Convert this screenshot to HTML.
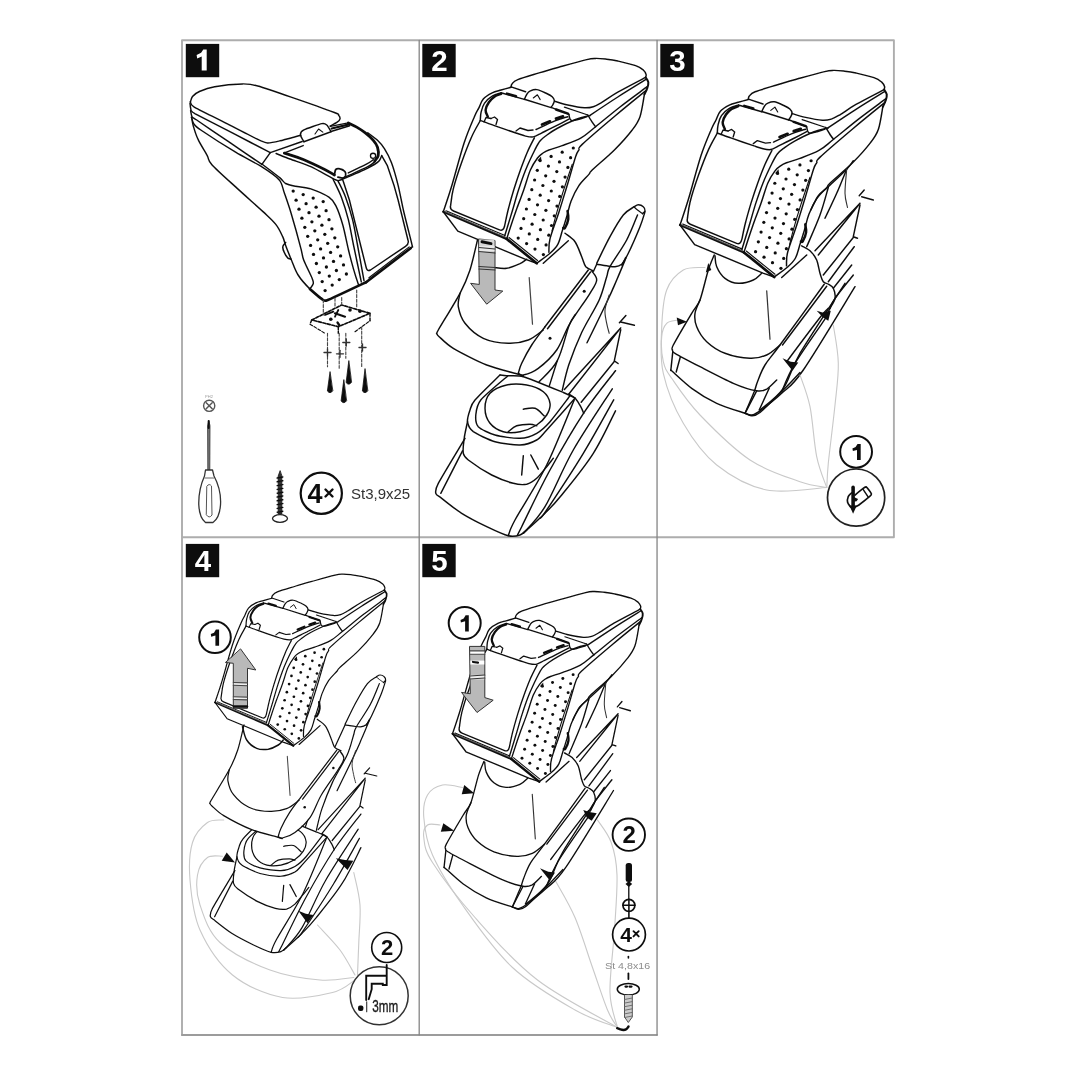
<!DOCTYPE html>
<html><head><meta charset="utf-8"><title>Armrest installation</title>
<style>html,body{margin:0;padding:0;background:#fff}svg{display:block}text{font-family:"Liberation Sans",sans-serif}</style>
</head><body>
<svg width="1080" height="1080" viewBox="0 0 1080 1080">
<rect width="1080" height="1080" fill="#fff"/>
<defs><filter id="soft" x="0" y="0" width="1080" height="1080" filterUnits="userSpaceOnUse"><feGaussianBlur stdDeviation="0.38"/></filter><g id="arm"><path d="M511.1 86.9 C511.2 86.4 510.9 85.1 512 83.9 C513.1 82.7 513.1 81.5 517.8 79.6 C522.5 77.7 532.5 74.9 540 72.6 C547.5 70.3 555.2 68.2 563 66 C570.8 63.8 581.3 60.9 586.7 59.6 C592.1 58.3 592.3 58.5 595.6 58.4 C598.9 58.3 603 58.8 606.7 59.2 C610.4 59.6 613 59.9 617.8 61 C622.6 62.1 631.4 64.1 635.6 65.6 C639.9 67.1 641.5 68.5 643.3 70 C645 71.5 645.7 73.2 646.1 74.4 C646.5 75.6 645.7 76.9 645.6 77.4" fill="none" stroke="#111" stroke-width="1.46" />
<path d="M645.6 77.4 C641 79.9 625 88.1 617.8 92.2 C610.6 96.3 606.3 99.8 602.2 102.2 C598.1 104.6 596.3 105.8 593.3 106.7 C590.3 107.6 588.6 108.1 584.4 107.8 C580.1 107.5 572.8 106.1 567.8 105 C562.8 103.9 556.6 101.8 554.4 101.1" fill="none" stroke="#111" stroke-width="1.46" />
<path d="M511.1 86.9 L525.6 91.7" fill="none" stroke="#111" stroke-width="1.46" />
<path d="M524.4 99.2 C524.8 98.3 526.1 95.3 527 94 C527.9 92.7 528.4 91.8 530 91.1 C531.6 90.4 533.9 89.2 536.7 89.6 C539.5 90 544.1 92.3 546.7 93.5 C549.3 94.7 550.9 95.5 552.2 96.7 C553.5 97.9 554.3 99.3 554.4 100.6 C554.5 101.9 553.5 103.4 553 104.5 C552.5 105.6 551.4 106.8 551.1 107.2" fill="none" stroke="#111" stroke-width="1.46" />
<path d="M524.4 99.2 L551.1 107.6" fill="none" stroke="#111" stroke-width="1.46" />
<path d="M533.3 98 L537.4 94.8 L540.2 99.6" fill="none" stroke="#111" stroke-width="1.12" />
<path d="M511.1 87.2 C509.4 87.7 504.2 89.1 501.1 90 C498 90.9 495.2 91.3 492.2 92.8 C489.2 94.3 485.5 96.4 483.3 98.9 C481.1 101.4 480.4 104.8 478.9 107.8 C477.4 110.8 476.9 110.8 474.4 116.7 C471.9 122.6 467.7 131.9 464 143.3 C460.3 154.7 455.4 173.6 452 185 C448.6 196.4 444.8 207.2 443.3 211.7" fill="none" stroke="#111" stroke-width="1.46" />
<path d="M480.3 120.5 C480.4 119.1 480.4 115.1 481.1 112.2 C481.8 109.3 482.5 106 484.4 103.3 C486.2 100.6 489.4 97.8 492.2 96.1 C495 94.3 499.6 93.3 501.1 92.8" fill="none" stroke="#111" stroke-width="1.46" />
<path d="M501.1 92.8 L524.4 99.4" fill="none" stroke="#111" stroke-width="1.46" />
<path d="M551.1 107.4 L568.9 114.4" fill="none" stroke="#111" stroke-width="1.46" />
<path d="M487.8 116.7 C487.4 115.6 485.4 112.4 485.6 110 C485.8 107.6 487.4 104.4 488.9 102.2 C490.4 100 492.4 98.1 494.4 96.7 C496.4 95.3 500 94.4 501.1 93.9" fill="none" stroke="#111" stroke-width="2.46" />
<path d="M480.3 120.5 C482.2 121.2 489.5 123.9 494.4 125.6 C499.3 127.3 512.5 131.9 516.7 133.3 C520.9 134.7 523.4 135.6 525.6 136.1 C527.8 136.6 531.2 137.3 533.3 136.9 C535.4 136.5 538.3 134.7 541.1 133.3 C543.9 131.9 550.7 128.6 554.4 126.7 C558.1 124.8 567 120.2 568.9 119.2" fill="none" stroke="#111" stroke-width="1.46" />
<path d="M536 129.5 C539.1 128.1 549.1 123.2 554.4 121.1 C559.7 119 565.6 117.4 567.8 116.7" fill="none" stroke="#111" stroke-width="1.46" />
<path d="M542 124.5 L550 121.3" fill="none" stroke="#111" stroke-width="2.69" />
<path d="M556 118.6 L563 116.4" fill="none" stroke="#111" stroke-width="2.69" />
<path d="M556 109.5 L568 113.6" fill="none" stroke="#111" stroke-width="2.46" />
<path d="M507 93.6 L516 96.2" fill="none" stroke="#111" stroke-width="2.46" />
<path d="M491 118.5 L494.5 117 L497.5 119.5 L496 124.5" fill="none" stroke="#111" stroke-width="1.34" />
<path d="M516 131 L520 128 L528 130.5 L533 130" fill="none" stroke="#111" stroke-width="1.34" />
<path d="M484 122 L486 117.5 L491 118.5" fill="none" stroke="#111" stroke-width="1.34" />
<path d="M568.9 114.4 C569.1 115.2 569.3 117.9 570 118.9 C570.7 119.9 570.5 120.9 573.3 120.6 C576.1 120.3 584.5 117.5 586.7 116.9" fill="none" stroke="#111" stroke-width="1.46" />
<path d="M564.4 107.2 L587.8 115" fill="none" stroke="#111" stroke-width="1.23" />
<path d="M587.8 115 C588.5 116.2 590.9 120.2 592.2 122.2 C593.5 124.2 595 126 595.6 126.7" fill="none" stroke="#111" stroke-width="1.46" />
<path d="M645.6 77.4 C646 78.2 648 80.4 648.3 82.2 C648.6 84 647.9 86.3 647.2 88.3 C646.6 90.3 644.9 93.4 644.4 94.4" fill="none" stroke="#111" stroke-width="2.02" />
<path d="M646.1 79.4 C641.4 82.3 627.1 91 617.8 97 C608.4 103 594.6 112.3 590 115.4" fill="none" stroke="#111" stroke-width="1.46" />
<path d="M647.2 86.7 C642.7 90.1 628.6 100.3 620 107 C611.4 113.7 602.1 121.6 595.6 126.7 C589.1 131.8 586.7 134.7 581.1 137.8 C575.5 141 567.6 143.6 562.2 145.6 C556.8 147.6 552.1 148.8 548.9 150 C545.7 151.2 544.9 151.7 543 153 C541.1 154.3 539.6 155.2 537.5 158 C535.4 160.8 532.7 164.7 530.4 170 C528.1 175.3 526.1 183.3 523.7 190 C521.4 196.7 518.3 204.3 516.3 210 C514.3 215.7 513.1 219.2 511.5 224 C509.9 228.8 507.5 236.4 506.7 238.9" fill="none" stroke="#111" stroke-width="1.46" />
<path d="M646.7 90 C641.4 94.3 625.8 106.9 615 116 C604.2 125.1 588.2 138.7 582.2 144.4 C576.2 150.1 580 147.9 578.9 150 C577.8 152.1 577.6 150.7 575.6 156.7 C573.6 162.7 569.8 176.8 567 186 C564.2 195.2 561.7 203.4 558.9 212.2 C556.1 221 551.7 232.2 550 238.9 C548.3 245.6 549.1 250 548.9 252.2" fill="none" stroke="#111" stroke-width="1.46" />
<path d="M644.4 94.4 C643.7 98.1 642 110.8 640 116.7 C638 122.6 636.5 124.5 632.2 130 C627.9 135.6 621.1 143.3 614.4 150 C607.7 156.7 596.5 165.9 592.2 170 C588 174.1 591.1 171.8 588.9 174.4 C586.7 177 581.9 181.2 578.9 185.6 C575.9 190 573.1 195.9 571.1 201.1 C569.1 206.3 568.2 211.7 566.7 216.7 C565.2 221.7 563.7 226.5 562.2 231.1 C560.7 235.7 559.8 240.7 557.8 244.4 C555.8 248.1 553.5 250.2 550 253.3 C546.5 256.4 538.9 261.6 536.7 263.3" fill="none" stroke="#111" stroke-width="1.46" />
<path d="M572.2 164.4 C570.7 169 565.8 183.3 563 192 C560.2 200.7 557.4 210.2 555.6 216.7 C553.8 223.2 552.6 228.6 552 231" fill="none" stroke="#111" stroke-width="1.12" />
<path d="M567.5 211 C567.6 212.3 568.7 216.2 568.3 219 C567.9 221.8 565.9 226.3 565 227.8 C564.1 229.3 563.5 228 563.2 228" fill="none" stroke="#111" stroke-width="2.46" />
<path d="M534.4 137.8 C533.2 140.2 529.7 146.6 527.4 152 C525.1 157.4 522.7 163.7 520.4 170 C518.1 176.3 515.8 183.3 513.7 190 C511.7 196.7 509.6 204 508.1 210 C506.6 216 505.2 223.3 504.6 226 Q503.3 231.4 499.5 229.9 L453.5 211 Q449.6 209.3 450.6 205.5  C451.1 202.7 451.5 196.1 453.3 188.9 C455.1 181.7 458.6 170.9 461.7 162.2 C464.8 153.5 468.6 143.6 471.7 136.7 C474.8 129.8 478.9 123.2 480.3 120.5" fill="none" stroke="#111" stroke-width="1.46" />
<path d="M590 115.6 C587.6 116.2 581.1 117.3 575.6 119.5 C570.1 121.7 561.8 125.9 557 128.5 C552.2 131.1 549.8 132.9 547 135 C544.2 137.1 542 138.5 540 141 C538 143.5 537.2 145.2 534.8 150 C532.4 154.8 528.3 163.3 525.6 170 C522.9 176.7 520.7 183.3 518.5 190 C516.3 196.7 514.6 203.3 512.6 210 C510.6 216.7 507.8 225.7 506.5 230 C505.2 234.3 504.9 235 504.6 236" fill="none" stroke="#111" stroke-width="1.46" />
<path d="M443.3 211.7 L506.7 238.9" fill="none" stroke="#111" stroke-width="2.24" />
<path d="M446 210.8 L505 235.6" fill="none" stroke="#111" stroke-width="1.12" />
<path d="M445 211.6 L505.8 237.4" fill="none" stroke="#555" stroke-width="1.01" />
<path d="M506.7 238.9 L536.7 263.3" fill="none" stroke="#111" stroke-width="2.69" />
<path d="M509 237.5 L537.5 260.5" fill="none" stroke="#111" stroke-width="1.12" />
<path d="M443.3 211.7 L457.8 231.1 L525.6 259.4 L536.7 263.3" fill="none" stroke="#111" stroke-width="1.46" />
<g fill="#111"><circle cx="540" cy="160.6" r="1.6"/><circle cx="537.3" cy="170.3" r="1.6"/><circle cx="534.6" cy="180" r="1.6"/><circle cx="531.8" cy="189.7" r="1.6"/><circle cx="529.1" cy="199.4" r="1.6"/><circle cx="526.4" cy="209" r="1.6"/><circle cx="523.7" cy="218.7" r="1.6"/><circle cx="521" cy="228.4" r="1.6"/><circle cx="518.2" cy="238.1" r="1.6"/><circle cx="551.1" cy="156.4" r="1.6"/><circle cx="548.4" cy="166.1" r="1.6"/><circle cx="545.7" cy="175.8" r="1.6"/><circle cx="542.9" cy="185.5" r="1.6"/><circle cx="540.2" cy="195.2" r="1.6"/><circle cx="537.5" cy="204.8" r="1.6"/><circle cx="534.8" cy="214.5" r="1.6"/><circle cx="532.1" cy="224.2" r="1.6"/><circle cx="529.3" cy="233.9" r="1.6"/><circle cx="526.6" cy="243.6" r="1.6"/><circle cx="562.2" cy="152.2" r="1.6"/><circle cx="559.5" cy="161.9" r="1.6"/><circle cx="556.8" cy="171.6" r="1.6"/><circle cx="554" cy="181.3" r="1.6"/><circle cx="551.3" cy="191" r="1.6"/><circle cx="548.6" cy="200.6" r="1.6"/><circle cx="545.9" cy="210.3" r="1.6"/><circle cx="543.2" cy="220" r="1.6"/><circle cx="540.4" cy="229.7" r="1.6"/><circle cx="537.7" cy="239.4" r="1.6"/><circle cx="535" cy="249.1" r="1.6"/><circle cx="573.3" cy="148" r="1.6"/><circle cx="570.6" cy="157.7" r="1.6"/><circle cx="567.9" cy="167.4" r="1.6"/><circle cx="565.1" cy="177.1" r="1.6"/><circle cx="562.4" cy="186.8" r="1.6"/><circle cx="559.7" cy="196.4" r="1.6"/><circle cx="557" cy="206.1" r="1.6"/><circle cx="554.3" cy="215.8" r="1.6"/><circle cx="551.5" cy="225.5" r="1.6"/><circle cx="548.8" cy="235.2" r="1.6"/><circle cx="546.1" cy="244.9" r="1.6"/><circle cx="543.4" cy="254.6" r="1.6"/></g>
<path d="M537.5 160.5 L541 156.5 L541.5 161.5Z" fill="#111"/></g></defs>
<g stroke-linecap="round" stroke-linejoin="round" filter="url(#soft)">
<g fill="none">
<path d="M182 1035 V40.3 H893.9 V537.2 H182" stroke="#adadad" stroke-width="1.9"/>
<path d="M182 1035 H657" stroke="#9c9c9c" stroke-width="1.9"/>
<path d="M419.2 40.3 V1035 M657.05 40.3 V1035" stroke="#858585" stroke-width="1.3"/>
</g>
<rect x="185.8" y="43.9" width="33.4" height="33.3" fill="#0c0c0c"/><path d="M203.3 49.4 L206.7 49.4 L206.7 70.6 L201.7 70.6 L201.7 56.4 L197.2 58.4 L196.6 55.1 L201.1 52.8Z" fill="#fff"/>
<rect x="422.3" y="43.9" width="33.4" height="33.3" fill="#0c0c0c"/><text x="439.5" y="70.8" font-family="Liberation Sans, sans-serif" font-weight="bold" font-size="29.5" fill="#fff" text-anchor="middle">2</text>
<rect x="660.3" y="43.9" width="33.4" height="33.3" fill="#0c0c0c"/><text x="677.5" y="70.8" font-family="Liberation Sans, sans-serif" font-weight="bold" font-size="29.5" fill="#fff" text-anchor="middle">3</text>
<rect x="185.8" y="543.9" width="33.4" height="33.3" fill="#0c0c0c"/><text x="203.0" y="570.8" font-family="Liberation Sans, sans-serif" font-weight="bold" font-size="29.5" fill="#fff" text-anchor="middle">4</text>
<rect x="422.3" y="543.9" width="33.4" height="33.3" fill="#0c0c0c"/><text x="439.5" y="570.8" font-family="Liberation Sans, sans-serif" font-weight="bold" font-size="29.5" fill="#fff" text-anchor="middle">5</text>
<path d="M190.4 101.9 C190.7 101.2 191.3 97.8 192.5 96.4 C193.7 95 196.5 92.8 199.4 91.5 C202.4 90.2 209 87.7 214.7 86.7 C220.5 85.6 236.8 84 242.5 83.9 C248.2 83.8 251.3 84.2 257.8 86 C264.3 87.7 280.9 93.5 291.1 97.1 C301.3 100.6 328.1 110.1 334.4 112.5 C340.8 114.9 337.9 114.4 338.6 115.3 C339.4 116.1 340.2 117.8 340 118.8 C339.8 119.7 338.5 121.3 337.2 122.2 C335.9 123.2 331.2 125.5 330.3 126" fill="none" stroke="#111" stroke-width="1.46" />
<path d="M190.4 101.9 C190.8 102.5 189.8 104.3 193.9 106.8 C198 109.3 218.4 119.2 225.8 123.1 C233.3 126.9 252.9 137.1 257.8 139.4 C262.6 141.8 264.9 142.8 267.5 142.9 C270.1 143.1 276.1 141.7 280 140.8 C283.9 139.9 298.4 135.9 300.8 135.3" fill="none" stroke="#111" stroke-width="1.46" />
<path d="M303.9 141.7 C303.5 140.9 300.4 136.1 300.4 134.7 C300.4 133.3 301.4 131.2 303.9 129.9 C306.4 128.6 319.3 124.2 321.9 123.6 C324.6 123 325.8 124.1 326.8 125 C327.9 125.9 330.5 130.8 331 131.5" fill="none" stroke="#111" stroke-width="1.46" />
<path d="M303.9 141.7 L331 131.8" fill="none" stroke="#111" stroke-width="1.46" />
<path d="M315 134 L318.6 129 L322.8 132.1" fill="none" stroke="#111" stroke-width="1.12" />
<path d="M190 103.3 C190.1 104 190.6 109.2 191.1 110.3 C191.6 111.3 191.1 111.5 195.3 113.8 C199.4 116 225.3 129.3 232.8 133.2 C240.3 137.1 266.5 150.7 270.3 152.6" fill="none" stroke="#111" stroke-width="1.46" />
<path d="M190.6 110.6 C190.7 111.2 191.5 115.9 192.1 116.8 C192.7 117.8 192.9 117.5 196.7 120 C200.4 122.5 222.8 137.8 229.3 142.2 C235.8 146.7 258.7 162.2 261.9 164.4" fill="none" stroke="#111" stroke-width="1.46" />
<path d="M270.3 152.6 L261.9 164.4" fill="none" stroke="#111" stroke-width="1.46" />
<path d="M270.3 152.6 L302.2 141.5" fill="none" stroke="#111" stroke-width="1.46" />
<path d="M191.4 117.2 C191.7 118.1 192.6 122.2 193.9 123.9 C195.1 125.6 195.3 126.2 200.8 130 C206.4 133.8 227.4 147.3 235.6 152.2 C243.7 157.1 256.1 163.2 261.9 166.9 C267.8 170.6 276.3 176.6 279.3 180 C282.3 183.4 282.6 188.1 284.2 192.5 C285.7 196.9 288.9 205.9 291.1 213.3 C293.3 220.7 299.2 241.9 300.8 248.1 C302.5 254.2 302.1 255.7 303.6 259.7 C305.1 263.7 310.6 274.7 311.9 277.8 C313.2 280.9 313.6 281.8 313.3 283.3 C313 284.8 310.4 288.2 309.9 288.9" fill="none" stroke="#111" stroke-width="1.46" />
<path d="M191.9 118.6 C192.2 119.8 192.2 122.1 193.2 125.6 C194.2 129 195.7 134.5 198.1 139.4 C200.4 144.4 204.8 151.2 207.1 155.4 C209.4 159.6 207.2 159.5 211.9 164.7 C216.7 170 227 179.1 235.6 186.9 C244.1 194.8 256.6 205.7 263.3 211.9 C270 218.2 272.6 220.3 275.8 224.4 C279.1 228.6 281.2 233.5 282.8 236.9 C284.4 240.4 284.2 241.6 285.6 245.3 C286.9 249 289 254.2 291.1 259.2 C293.2 264.1 294.9 270 298.1 275 C301.2 280 305.9 285 309.9 288.9 C313.8 292.8 319.7 297 321.7 298.6" fill="none" stroke="#111" stroke-width="1.46" />
<path d="M285.6 242.5 C285.1 243.2 283 245 282.8 246.7 C282.5 248.3 283.4 250.4 284.2 252.2 C285 254.1 286.5 256.6 287.6 257.8 C288.8 258.9 290.5 258.9 291.1 259.2" fill="none" stroke="#111" stroke-width="1.57" />
<path d="M261.9 164 C264.4 165.9 276.9 175.3 280 177.9 C283.1 180.5 283.5 182.4 285.6 183.5 C287.6 184.6 291.9 185.5 295.3 186.2 C298.6 187 306.4 187.4 310.8 188.9 C315.3 190.4 325.6 195 328.9 197.2 C332.2 199.4 334 201.9 335.8 205.6 C337.7 209.3 341.1 219.1 342.8 225 C344.5 230.9 347.1 244.1 348.5 250 C349.9 255.9 352.3 264.8 353.6 269.4 C354.9 274 357.8 282.7 358.5 284.7" fill="none" stroke="#111" stroke-width="1.46" />
<path d="M333.1 179.2 C334.5 182.2 338.9 190.5 341.4 197.2 C343.9 203.9 346.3 211.4 348.3 219.4 C350.3 227.4 351.3 234.6 353.5 245 C355.7 255.4 360 275.8 361.3 281.9" fill="none" stroke="#111" stroke-width="1.46" />
<path d="M337.9 180.6 C339.2 183.4 343.2 190.7 345.6 197.2 C348 203.7 350.5 211.4 352.5 219.4 C354.5 227.4 355.6 234.8 357.5 245 C359.4 255.2 362.9 274.7 364 280.6" fill="none" stroke="#111" stroke-width="1.46" />
<path d="M342.8 180 L349.4 200 L361.8 250 L366.3 268 Q367.3 271.8 370.5 270 L405.5 246.3 Q408.8 244 408.2 241 L398.1 200 L394.2 186.1 L387.2 165.3 L381.7 155.6" fill="none" stroke="#111" stroke-width="1.46" />
<path d="M367.8 132.8 C369.1 133.8 375.3 138.2 377.5 140.3 C379.7 142.4 382.5 145.6 384.4 148.6 C386.3 151.6 389.5 157.5 391.4 162.5 C393.3 167.5 396.7 179.6 398.3 186.1 C399.9 192.6 401.8 203.2 403.6 211 C405.4 218.8 410.8 239.7 411.9 244.4 C413 249.1 412.4 246 412.2 246.5 C412 247 410.8 248 410.6 248.2" fill="none" stroke="#111" stroke-width="1.46" />
<path d="M330.3 126.4 L348.3 122.9" fill="none" stroke="#111" stroke-width="1.46" />
<path d="M331 131.5 L349.7 125.7" fill="none" stroke="#111" stroke-width="1.46" />
<path d="M331.7 128.5 L349 124.3" fill="none" stroke="#111" stroke-width="2.24" />
<path d="M348.3 122.9 C349.7 123.6 353.9 125.5 356.7 127.1 C359.4 128.7 362.2 130.4 365 132.6 C367.8 134.8 371.2 137.8 373.3 140.3 C375.4 142.7 376.7 144.7 377.5 147.2 C378.3 149.8 378.7 153.2 378.2 155.6 C377.7 157.9 375.3 160.2 374.7 161.1" fill="none" stroke="#111" stroke-width="2.8" />
<circle cx="373.05555555555554" cy="155.83333333333331" r="2.6" fill="#fff" stroke="#111" stroke-width="1.3"/>
<path d="M374.7 161.8 C373.6 162.6 372.2 164.4 367.8 166.7 C363.4 169 352.5 173.8 348.3 175.7 C344.2 177.6 343.7 177.7 342.8 178.1" fill="none" stroke="#111" stroke-width="1.46" />
<path d="M373.3 159.7 C372.2 160.5 370.6 162 366.4 164.2 C362.2 166.4 351.3 171.5 348.3 172.9" fill="none" stroke="#111" stroke-width="1.46" />
<path d="M284.4 153.2 C285.4 153.5 286.8 153.8 290 154.9 C293.2 155.9 298.1 157.3 303.9 159.7 C309.7 162.2 319.6 166.9 324.7 169.4 C329.8 172 332.8 174.1 334.4 175" fill="none" stroke="#111" stroke-width="2.8" />
<path d="M334.4 175 C334.7 174.1 334.9 170.5 335.8 169.4 C336.8 168.4 338.5 168.4 340 168.8 C341.5 169.1 343.9 170.4 344.9 171.5 C345.8 172.7 345.9 174.6 345.6 175.7 C345.2 176.8 344.1 177.8 342.8 178.1 C341.5 178.3 338.7 177.2 337.9 177.1" fill="none" stroke="#111" stroke-width="1.79" />
<path d="M283.8 153.1 L303.2 145.6" fill="none" stroke="#111" stroke-width="1.46" />
<path d="M276.1 153.5 C277.7 154.1 285.9 157.5 290 159 C294.1 160.6 306 164.5 310.8 166.7 C315.7 168.9 328.5 176.2 331.7 177.8 C334.8 179.4 336.6 180.4 337.9 180.6 C339.2 180.7 339.3 180.6 342.8 179.2 C346.3 177.7 363.6 170.2 367.8 168.1 C372 165.9 377.3 162.6 378.9 161.1 C380.5 159.7 381.3 156.2 381.7 155.6" fill="none" stroke="#111" stroke-width="1.46" />
<path d="M410.6 248.2 L366.1 282.2" fill="none" stroke="#111" stroke-width="2.69" />
<path d="M409.2 246.9 L368.9 277.8" fill="none" stroke="#111" stroke-width="1.12" />
<path d="M366.1 282.2 C362.9 283.7 330.9 298.9 327.2 300.3 C323.5 301.7 323.1 299.8 321.7 298.9 C320.2 297.9 310.8 289.7 309.9 288.9" fill="none" stroke="#111" stroke-width="2.69" />
<g fill="#111"><circle cx="293.2" cy="191.1" r="1.65"/><circle cx="296.1" cy="200.2" r="1.65"/><circle cx="299" cy="209.2" r="1.65"/><circle cx="301.9" cy="218.2" r="1.65"/><circle cx="304.8" cy="227.3" r="1.65"/><circle cx="307.7" cy="236.3" r="1.65"/><circle cx="310.6" cy="245.4" r="1.65"/><circle cx="313.5" cy="254.4" r="1.65"/><circle cx="316.4" cy="263.5" r="1.65"/><circle cx="319.3" cy="272.6" r="1.65"/><circle cx="322.2" cy="281.6" r="1.65"/><circle cx="325.1" cy="290.6" r="1.65"/><circle cx="303.2" cy="194.6" r="1.65"/><circle cx="306.1" cy="203.7" r="1.65"/><circle cx="309" cy="212.7" r="1.65"/><circle cx="311.9" cy="221.8" r="1.65"/><circle cx="314.8" cy="230.8" r="1.65"/><circle cx="317.7" cy="239.8" r="1.65"/><circle cx="320.6" cy="248.9" r="1.65"/><circle cx="323.5" cy="257.9" r="1.65"/><circle cx="326.4" cy="267" r="1.65"/><circle cx="329.3" cy="276.1" r="1.65"/><circle cx="332.2" cy="285.1" r="1.65"/><circle cx="313.2" cy="198.1" r="1.65"/><circle cx="316.1" cy="207.2" r="1.65"/><circle cx="319" cy="216.2" r="1.65"/><circle cx="321.9" cy="225.2" r="1.65"/><circle cx="324.8" cy="234.3" r="1.65"/><circle cx="327.7" cy="243.3" r="1.65"/><circle cx="330.6" cy="252.4" r="1.65"/><circle cx="333.5" cy="261.4" r="1.65"/><circle cx="336.4" cy="270.5" r="1.65"/><circle cx="339.3" cy="279.6" r="1.65"/><circle cx="323.2" cy="201.6" r="1.65"/><circle cx="326.1" cy="210.7" r="1.65"/><circle cx="329" cy="219.7" r="1.65"/><circle cx="331.9" cy="228.8" r="1.65"/><circle cx="334.8" cy="237.8" r="1.65"/><circle cx="337.7" cy="246.8" r="1.65"/><circle cx="340.6" cy="255.9" r="1.65"/><circle cx="343.5" cy="264.9" r="1.65"/><circle cx="346.4" cy="274" r="1.65"/></g>
<g stroke-dasharray="3 1.6">
<path d="M311.7 320 L341.7 305 L370 313.3 L338.3 326.7Z" fill="none" stroke="#111" stroke-width="1.68" />
<path d="M311.7 320 L310 324.2" fill="none" stroke="#111" stroke-width="1.46" />
<path d="M338.3 326.7 L338.3 333.3" fill="none" stroke="#111" stroke-width="1.46" />
<path d="M370 313.3 L370 320.8" fill="none" stroke="#111" stroke-width="1.46" />
<path d="M310 324.2 L325 333.3" fill="none" stroke="#111" stroke-width="1.12" />
<path d="M355 331.7 L370 320.8" fill="none" stroke="#111" stroke-width="1.12" />
<path d="M323.3 300 L323.3 315" fill="none" stroke="#444" stroke-width="1.12" />
<path d="M335 298.3 L335 306.7" fill="none" stroke="#444" stroke-width="1.12" />
<path d="M341.7 297.5 L341.7 305" fill="none" stroke="#444" stroke-width="1.12" />
<path d="M356.7 290 L356.7 306.7" fill="none" stroke="#444" stroke-width="1.12" />
<path d="M327.5 333.3 L327.5 366.7" fill="none" stroke="#444" stroke-width="1.12" />
<path d="M339.2 333.3 L339.2 368.3" fill="none" stroke="#444" stroke-width="1.12" />
<path d="M345.8 333.3 L345.8 358.3" fill="none" stroke="#444" stroke-width="1.12" />
<path d="M361.7 326.7 L361.7 366.7" fill="none" stroke="#444" stroke-width="1.12" />
</g>
<g fill="#111"><circle cx="330.8" cy="319.2" r="1.8"/><circle cx="350" cy="310" r="1.8"/><circle cx="360" cy="311.3" r="1.8"/></g>
<path d="M335 313.3 L345 316.7" fill="none" stroke="#111" stroke-width="2.24" />
<path d="M338.3 310 L335 316.7" fill="none" stroke="#111" stroke-width="1.79" />
<path d="M325 315 L333.3 311.7" fill="none" stroke="#111" stroke-width="1.79" />
<path d="M337.5 322.5 L339.2 325" fill="none" stroke="#111" stroke-width="2.24" />
<path d="M324 352.5 L331 352.5" fill="none" stroke="#333" stroke-width="1.34" />
<path d="M327.5 349 L327.5 356" fill="none" stroke="#333" stroke-width="1.34" />
<path d="M342.8 342.5 L349.8 342.5" fill="none" stroke="#333" stroke-width="1.34" />
<path d="M346.3 339 L346.3 346" fill="none" stroke="#333" stroke-width="1.34" />
<path d="M359 347.5 L366 347.5" fill="none" stroke="#333" stroke-width="1.34" />
<path d="M362.5 344 L362.5 351" fill="none" stroke="#333" stroke-width="1.34" />
<path d="M336.5 353.8 L343.5 353.8" fill="none" stroke="#333" stroke-width="1.34" />
<path d="M340 350.3 L340 357.3" fill="none" stroke="#333" stroke-width="1.34" />
<path d="M330 372 L327.4 391 Q330 394.5 332.6 391 Z" fill="#111" stroke="#111" stroke-width="0.8"/>
<path d="M348.8 361 L346.1 382.5 Q348.8 386 351.4 382.5 Z" fill="#111" stroke="#111" stroke-width="0.8"/>
<path d="M343.8 380 L341.1 401 Q343.8 404.5 346.4 401 Z" fill="#111" stroke="#111" stroke-width="0.8"/>
<path d="M365 369 L362.4 391 Q365 394.5 367.6 391 Z" fill="#111" stroke="#111" stroke-width="0.8"/>
<text x="209" y="397.5" font-size="4" text-anchor="middle" fill="#999">PH2</text>
<circle cx="209.2" cy="405.8" r="5.6" fill="#fff" stroke="#555" stroke-width="1.4"/>
<path d="M206.2 402.8 L212.2 408.8" fill="none" stroke="#555" stroke-width="1.46" />
<path d="M212.2 402.8 L206.2 408.8" fill="none" stroke="#555" stroke-width="1.46" />
<path d="M208.7 421 L207.6 426 L207.8 470 L209.8 470 L210 426Z" fill="#777" stroke="#333" stroke-width="0.8"/>
<path d="M208.7 421 L208.7 428" fill="none" stroke="#111" stroke-width="2.02" />
<path d="M205.5 470 L212.5 470 L214 476 Q221.5 490 220.5 505 Q219.5 518 213 522.5 L205.5 522.5 Q199.5 518 198.8 505 Q198.3 490 204.5 476Z" fill="#fff" stroke="#333" stroke-width="1.3"/>
<path d="M207 486 Q209.2 483 211.5 486 L212 515 Q209.2 519 206.5 515Z" fill="#fff" stroke="#555" stroke-width="1"/>
<path d="M205 478 L213.5 478" fill="none" stroke="#666" stroke-width="1.12" />
<path d="M280 471 L278.2 476 L278.2 514 L281.8 514 L281.8 476Z" fill="#333" stroke="#111" stroke-width="0.8"/>
<path d="M277.2 478 L282.8 477" fill="none" stroke="#111" stroke-width="1.46" />
<path d="M277.2 481.8 L282.8 480.8" fill="none" stroke="#111" stroke-width="1.46" />
<path d="M277.2 485.6 L282.8 484.6" fill="none" stroke="#111" stroke-width="1.46" />
<path d="M277.2 489.4 L282.8 488.4" fill="none" stroke="#111" stroke-width="1.46" />
<path d="M277.2 493.2 L282.8 492.2" fill="none" stroke="#111" stroke-width="1.46" />
<path d="M277.2 497 L282.8 496" fill="none" stroke="#111" stroke-width="1.46" />
<path d="M277.2 500.8 L282.8 499.8" fill="none" stroke="#111" stroke-width="1.46" />
<path d="M277.2 504.6 L282.8 503.6" fill="none" stroke="#111" stroke-width="1.46" />
<path d="M277.2 508.4 L282.8 507.4" fill="none" stroke="#111" stroke-width="1.46" />
<path d="M277.2 512.2 L282.8 511.2" fill="none" stroke="#111" stroke-width="1.46" />
<ellipse cx="280" cy="518.5" rx="7.5" ry="3.8" fill="#fff" stroke="#222" stroke-width="1.3"/>
<circle cx="321.3" cy="493.3" r="20.6" fill="#fff" stroke="#111" stroke-width="2.2"/>
<text x="307.6" y="503.2" font-size="27" font-weight="bold" fill="#111">4</text>
<path d="M325.5 489.5 L332.5 496.5 M332.5 489.5 L325.5 496.5" stroke="#111" stroke-width="2.4" fill="none"/>
<text x="351" y="498.8" font-size="15" fill="#333">St3,9x25</text>
<path d="M596.7 264.2 L593.5 271.2" fill="none" stroke="#111" stroke-width="1.46" />
<path d="M634.2 206.7 C634.9 206.3 636.8 204.7 638.3 204.7 C639.9 204.7 642.2 205.6 643.3 206.7 C644.4 207.7 645.1 209.7 645 210.8 C644.9 212 642.9 213.2 642.5 213.7" fill="none" stroke="#111" stroke-width="1.46" />
<path d="M634.2 207 C634.7 207.5 636.1 208.9 637.5 210 C638.9 211.1 641.7 213.1 642.5 213.7" fill="none" stroke="#111" stroke-width="1.12" />
<path d="M634.2 206.7 C632.4 208.1 627.4 210 623.3 215 C619.3 220 614.4 228.6 610 236.7 C605.6 244.7 598.9 258.9 596.7 263.3" fill="none" stroke="#111" stroke-width="1.46" />
<path d="M645 211.7 C644.2 214.2 642.8 219.7 640 226.7 C637.2 233.6 631.4 246.9 628.3 253.3 C625.3 259.7 622.8 263.1 621.7 265" fill="none" stroke="#111" stroke-width="1.46" />
<path d="M637.5 215 C635.7 219.2 631.2 231.4 626.7 240 C622.1 248.6 613.3 260.6 610 266.7 C606.7 272.8 608.5 271.1 606.7 276.7 C604.9 282.2 603.3 290.7 599.2 300 C595 309.3 586.9 321.5 581.8 332.3 C576.8 343.1 572.1 355.2 568.8 364.8 C565.6 374.5 563.4 385.9 562.3 390.2" fill="none" stroke="#111" stroke-width="1.46" />
<path d="M596.7 264.2 C598.3 264.4 603.6 265.4 606.7 265.8 C609.7 266.2 612.5 266.9 615 266.7 C617.5 266.4 619.9 265.7 621.7 264.2 C623.5 262.6 625.1 258.6 625.8 257.5" fill="none" stroke="#111" stroke-width="1.46" />
<path d="M625.8 258.3 C624.3 261.9 619.7 273.1 616.7 280 C613.7 286.9 612.8 289.5 607.8 300 C602.9 310.5 590.5 335.7 587 342.8" fill="none" stroke="#111" stroke-width="1.46" />
<path d="M609.2 295 C608.5 297.5 605.4 305.3 605 310 C604.6 314.7 606 319.4 606.7 323.3 C607.4 327.2 608.8 331.7 609.2 333.3" fill="none" stroke="#333" stroke-width="1.12" />
<path d="M539.1 381.7 C542.1 378.2 552.3 370.2 557.2 360.9 C562.2 351.6 565.9 333.7 568.9 325.9 C571.9 318.1 574.3 316.2 575.4 314.3" fill="none" stroke="#111" stroke-width="1.46" />
<path d="M549.4 385.6 L557.2 360.9" fill="none" stroke="#111" stroke-width="1.46" />
<path d="M564.4 389.4 L620.7 327.9 L568.9 394" fill="none" stroke="#111" stroke-width="1.46" />
<path d="M619.4 322.7 L625.9 315.6" fill="none" stroke="#111" stroke-width="1.46" />
<path d="M620.7 322 L634.4 325.3" fill="none" stroke="#111" stroke-width="1.46" />
<path d="M620.7 329.8 L614.3 360.9 L618.1 363.5" fill="none" stroke="#111" stroke-width="1.46" />
<path d="M614.3 361.5 L581.2 402.3" fill="none" stroke="#111" stroke-width="1.46" />
<path d="M615.5 370.7 C610.2 377.7 594.8 396.3 583.8 412.8 C572.9 429.4 560.4 451 550 470 C539.6 489 527.1 515.8 521.7 526.7 C516.2 537.5 518.2 533.6 517.5 535" fill="none" stroke="#111" stroke-width="1.46" />
<path d="M612.3 388.8 C605.8 399 584.6 430.4 573.3 450 C562.1 469.6 553.3 492.8 545 506.7 C536.7 520.6 526.9 528.9 523.3 533.3" fill="none" stroke="#111" stroke-width="1.46" />
<path d="M613.7 399.8 C608.6 408.8 594.5 435 583.3 453.3 C572.2 471.7 553.9 499.2 546.7 510 C539.4 520.8 541.1 516.9 540 518.3" fill="none" stroke="#111" stroke-width="1.46" />
<path d="M615.5 410.8 C611.8 417.9 602.3 439.3 593.3 453.3 C584.4 467.4 569.7 485 561.7 495 C553.6 505 551.4 506.9 545 513.3 C538.6 519.7 526.9 530 523.3 533.3" fill="none" stroke="#111" stroke-width="1.46" />
<path d="M574.2 400 C569.6 410.8 556.5 445 546.7 465 C536.8 485 521.4 508.2 515 520 C508.6 531.8 509.4 533.2 508.3 535.8" fill="none" stroke="#111" stroke-width="1.46" />
<path d="M568.9 394 C570 394.7 573.4 396.5 575.4 398.5 C577.3 400.6 579.2 403.8 580.6 406.3 C582 408.8 583.3 412.2 583.8 413.4" fill="none" stroke="#111" stroke-width="1.46" />
<path d="M500 375 C500.7 375.1 504.3 375.7 506.7 375.8 C509 376 517.7 375 523.3 376.7 C529 378.3 558.2 390.4 563.3 392.5 C568.5 394.6 573.8 397.4 575 398" fill="none" stroke="#111" stroke-width="1.46" />
<path d="M485 408.3 C485 403.3 486.4 397.2 490 393.3 C493.6 389.4 500.6 386.4 506.7 385 C512.8 383.6 520.6 383.9 526.7 385 C532.8 386.1 539.4 388.6 543.3 391.7 C547.2 394.7 549.4 399.4 550 403.3 C550.6 407.2 548.9 411.4 546.7 415 C544.4 418.6 541.1 422.2 536.7 425 C532.2 427.8 525.6 430.6 520 431.7 C514.4 432.8 508.3 433.1 503.3 431.7 C498.3 430.3 493.1 427.2 490 423.3 C486.9 419.4 485 413.3 485 408.3Z" fill="none" stroke="#111" stroke-width="1.46" />
<path d="M523.3 409.2 C525.3 409 531.5 407.2 535 408.3 C538.5 409.4 542.6 414.6 544.2 415.8" fill="none" stroke="#111" stroke-width="1.46" />
<path d="M508.3 431.7 C509.7 430.7 513.1 427.1 516.7 425.8 C520.3 424.6 526.7 424.2 530 424.2 C533.3 424.2 535.6 425.6 536.7 425.8" fill="none" stroke="#111" stroke-width="1.46" />
<path d="M500 375 C496.7 378.3 479 395.3 475 400 C471 404.7 471 407.1 470 410 C469 412.9 467.1 418.8 467.5 421.7 C467.9 424.6 469.7 429 473.3 431.7 C477 434.3 488.8 439.9 495 441.7 C501.2 443.4 514.4 445.2 520 445 C525.6 444.8 533.1 442 536.7 440 C540.2 438 541.6 435.6 546.7 430 C551.8 424.4 571.2 402.6 575 398.3" fill="none" stroke="#111" stroke-width="1.46" />
<path d="M507.5 376.2 C503.9 379.3 485.1 394.8 480.8 400 C476.6 405.2 476.2 411.4 475.8 415 C475.5 418.6 475.8 424 478.3 426.7 C480.9 429.3 489.4 433.4 495 435 C500.6 436.6 514.4 438.6 520 438.3 C525.6 438.1 532.7 435.6 536.7 433.3 C540.7 431.1 545.6 426.7 550 421.7 C554.4 416.7 567.3 399.3 570 395.8" fill="none" stroke="#111" stroke-width="1.46" />
<path d="M467.5 421.7 C467.1 423.9 464.7 434.1 464.2 438.3 C463.6 442.6 462.8 450.4 463.3 453.3 C463.9 456.2 464.6 457.1 468.3 460 C472.1 462.9 485.7 471.9 491.7 475 C497.7 478.1 508.7 482.1 513.3 483.3 C518 484.6 523.6 484.8 526.7 484.2 C529.8 483.5 534 480.7 536.7 478.3 C539.3 476 544.4 469.3 546.7 466.7 C548.9 464 552.4 459.4 553.3 458.3" fill="none" stroke="#111" stroke-width="1.46" />
<path d="M523.3 455.8 L521.7 475" fill="none" stroke="#111" stroke-width="1.46" />
<path d="M530.8 455 L538.3 469.2" fill="none" stroke="#111" stroke-width="1.46" />
<path d="M465 438.3 C461.9 443.6 441.7 476.9 438.3 483.3 C434.9 489.8 435.4 491.6 435.8 493.3 C436.2 495.1 438.7 496 441.7 498.3 C444.7 500.7 456.4 510 461.7 513.3 C466.9 516.6 481.2 524 486.7 526.7 C492.1 529.3 504.4 534.9 508.3 535.8 C512.2 536.8 517.9 535.7 520 535 C522.1 534.3 525.9 530.6 526.7 530" fill="none" stroke="#111" stroke-width="1.46" />
<path d="M462.5 450.8 L440.8 493.3" fill="none" stroke="#111" stroke-width="1.46" />
<path d="M477.5 240 C476.5 244 472.3 262.9 470 270 C467.7 277.1 464.2 285.3 460 293.3 C455.8 301.3 441.4 324.6 438.3 330 C435.3 335.4 437.1 333.3 437.2 334.2 C437.3 335.1 437 334.8 439.2 336.7 C441.3 338.6 447 344.6 453.3 348.3 C459.7 352.1 478 361.6 486.7 365 C495.3 368.4 513.4 372.7 518.3 374.2 C523.2 375.6 522.7 375.6 523.3 375.8" fill="none" stroke="#111" stroke-width="1.46" />
<path d="M460 293.3 C459.7 295.6 457.5 301.7 458.3 306.7 C459.2 311.7 460.8 318.1 465 323.3 C469.2 328.6 476.1 335 483.3 338.3 C490.6 341.7 500.8 343.1 508.3 343.3 C515.8 343.6 522.5 342.2 528.3 340 C534.2 337.8 540.8 331.7 543.3 330" fill="none" stroke="#111" stroke-width="1.46" />
<path d="M529.2 277.5 L532.5 324.2" fill="none" stroke="#444" stroke-width="1.23" />
<path d="M493.3 267.5 C495.6 267.6 502.2 269 506.7 268.3 C511.1 267.7 516.7 265.2 520 263.7 C523.3 262.1 525.6 259.9 526.7 259.2" fill="none" stroke="#111" stroke-width="1.46" />
<path d="M565 233.3 C566.7 234.7 572.2 237.8 575 241.7 C577.8 245.6 579.9 252.5 581.7 256.7 C583.5 260.8 583.9 264.3 585.8 266.7 C587.8 269 592.1 270.1 593.3 270.8" fill="none" stroke="#111" stroke-width="1.46" />
<path d="M568.3 240.8 L543.3 263.3" fill="none" stroke="#111" stroke-width="1.46" />
<path d="M588.3 270 L545 326.7" fill="none" stroke="#111" stroke-width="1.46" />
<path d="M590.5 272 L547.5 328.7" fill="none" stroke="#111" stroke-width="1.46" />
<path d="M591.7 270.8 C592.5 272.4 596.9 276.2 596.7 280 C596.4 283.8 594.4 286.1 590 293.3 C585.6 300.6 575.6 313.9 570 323.3 C564.4 332.8 561.9 342.5 556.7 350 C551.4 357.5 543.9 364.2 538.3 368.3 C532.8 372.5 526.7 374.2 523.3 375 C520 375.8 519.2 373.6 518.3 373.3" fill="none" stroke="#111" stroke-width="1.46" />
<path d="M545 326.7 C542.8 329.7 535.6 338.9 531.7 345 C527.8 351.1 523.9 358.6 521.7 363.3 C519.4 368.1 518.9 371.7 518.3 373.3" fill="none" stroke="#111" stroke-width="1.46" />
<circle cx="584.2" cy="291.3" r="1.5" fill="#111"/><circle cx="550" cy="338.3" r="1.5" fill="#111"/>
<use href="#arm" transform="translate(443.3 211.7) scale(1) translate(-443.3 -211.7)"/>
<path d="M478.9 239 L495 240.5 L495 290 L502.8 291.1 L486.7 304.2 L470.6 283.3 L478.9 284.4Z" fill="#b9b9b9" stroke="#333" stroke-width="1"/>
<rect x="479.4" y="239.5" width="15" height="7" fill="#d8d8d8"/>
<rect x="479.4" y="246" width="15.2" height="5.5" fill="#e9e9e9"/>
<path d="M482 241.8 L491 243.6" fill="none" stroke="#111" stroke-width="2.91" />
<path d="M479 247.5 L495 249" fill="none" stroke="#333" stroke-width="1.23" />
<path d="M479 251.5 L495 253" fill="none" stroke="#333" stroke-width="1.23" />
<path d="M479 266.5 L495 267.5" fill="none" stroke="#333" stroke-width="1.23" />
<path d="M479 269 L495 270" fill="none" stroke="#333" stroke-width="1.23" />
<use href="#arm" transform="translate(680 225) scale(1.0086) translate(-443.3 -211.7)"/>
<path d="M714.2 255 C713.4 257 710.2 264 708.3 270 C706.4 276 702.2 294.2 700 300 C697.8 305.8 695.2 307.3 691.7 313.3 C688.1 319.3 675.9 340.1 673.3 345 C670.8 349.9 672.3 348.9 672.5 350 C672.7 351.1 671.3 351.1 675 353.3 C678.7 355.6 692.2 362.7 700 366.7 C707.8 370.7 725.8 380.1 733.3 383.3 C740.9 386.6 752.2 390.1 756.7 390.8 C761.1 391.6 764 390.6 766.7 389.2 C769.3 387.7 775.3 381.2 776.7 380" fill="none" stroke="#111" stroke-width="1.46" />
<path d="M672.8 351.7 L670.8 370.5" fill="none" stroke="#111" stroke-width="1.46" />
<path d="M680.3 357 L676.2 372" fill="none" stroke="#111" stroke-width="1.46" />
<path d="M670.8 370 C673.6 372.4 685.6 383.9 691.7 388.3 C697.8 392.8 709.6 400 716.7 403.3 C723.8 406.7 740.3 411.7 745 413.3 C749.7 415 749.7 415.9 751.7 415.8 C753.7 415.7 755.8 415.9 760 412.5 C764.2 409.1 778 395.3 783.3 390 C788.7 384.7 797.8 374.8 800 372.5" fill="none" stroke="#111" stroke-width="1.46" />
<path d="M756.7 390.8 L745 413.3" fill="none" stroke="#111" stroke-width="1.46" />
<path d="M769.2 388.3 L759.2 410" fill="none" stroke="#111" stroke-width="1.46" />
<path d="M700 300 C699.2 302.2 695.6 308.9 695 313.3 C694.4 317.8 694.7 321.9 696.7 326.7 C698.6 331.4 701.9 337.2 706.7 341.7 C711.4 346.1 717.8 350.6 725 353.3 C732.2 356.1 743.1 358.1 750 358.3 C756.9 358.6 761.7 357.2 766.7 355 C771.7 352.8 777.8 346.7 780 345" fill="none" stroke="#111" stroke-width="1.46" />
<path d="M766.7 290.8 L770 339.2" fill="none" stroke="#333" stroke-width="1.23" />
<path d="M715 255.8 C715.3 257.6 715 262.9 716.7 266.7 C718.3 270.4 721.4 275.6 725 278.3 C728.6 281.1 733.6 283.1 738.3 283.3 C743.1 283.6 749.4 281.7 753.3 280 C757.2 278.3 760.3 274.4 761.7 273.3" fill="none" stroke="#111" stroke-width="1.46" />
<path d="M801.7 245.8 C803.1 246.7 807.5 248.5 810 250.8 C812.5 253.2 815 256.2 816.7 260 C818.3 263.8 818.9 269.7 820 273.3 C821.1 276.9 821.9 279.9 823.3 281.7 C824.7 283.5 826.7 283.1 828.3 284.2 C830 285.3 832.2 286 833.3 288.3 C834.4 290.7 835.6 295 835 298.3 C834.4 301.7 831.4 305.6 830 308.3 C828.6 311.1 827.2 313.9 826.7 315" fill="none" stroke="#111" stroke-width="1.46" />
<path d="M806.7 255 L781.7 277.5" fill="none" stroke="#111" stroke-width="1.46" />
<path d="M853.3 160.8 C852.2 162.2 850.8 164.9 846.7 169.2 C842.5 173.5 833.1 182.2 828.3 186.7 C823.6 191.1 821.2 191.9 818.3 195.8 C815.4 199.7 812.1 207.6 810.8 210" fill="none" stroke="#111" stroke-width="1.46" />
<path d="M846.7 169.2 C845 173.2 840.3 185.1 836.7 193.3 C833.1 201.5 826.9 214.2 825 218.3" fill="none" stroke="#111" stroke-width="1.46" />
<path d="M846.7 169.2 C846.4 173.2 844.9 186.9 845 193.3 C845.1 199.7 847.1 205.1 847.5 207.5" fill="none" stroke="#333" stroke-width="1.12" />
<path d="M828.3 187.5 C826.9 192.1 823.6 205.1 820 215 C816.4 224.9 808.9 241.4 806.7 246.7" fill="none" stroke="#111" stroke-width="1.46" />
<path d="M815 250.8 L860 203.3 L818.3 255" fill="none" stroke="#111" stroke-width="1.46" />
<path d="M859.2 195.8 L864.2 190" fill="none" stroke="#111" stroke-width="1.46" />
<path d="M861.7 196.7 L873.3 200" fill="none" stroke="#111" stroke-width="1.46" />
<path d="M860 205 L853.3 236.7 L857.5 238.3" fill="none" stroke="#111" stroke-width="1.46" />
<path d="M853.3 237.5 L823.3 275" fill="none" stroke="#111" stroke-width="1.46" />
<path d="M854.2 246.7 L828.3 281.7" fill="none" stroke="#111" stroke-width="1.46" />
<path d="M851.7 265 L833.3 288.3" fill="none" stroke="#111" stroke-width="1.46" />
<path d="M824.2 284.2 C816.8 294.3 789.9 331.5 780 345 C770.1 358.5 768.8 358.9 765 365 C761.2 371.1 759.3 377.2 757.5 381.7 C755.7 386.1 756.2 386.4 754.2 391.7 C752.1 396.9 746.5 409.7 745 413.3" fill="none" stroke="#111" stroke-width="1.46" />
<path d="M826.7 286.3 L782.5 345" fill="none" stroke="#111" stroke-width="1.46" />
<path d="M828.3 308.3 C826.9 309.9 826.9 308.6 820 317.5 C813.1 326.4 792.2 354.3 786.7 361.7" fill="none" stroke="#111" stroke-width="1.46" />
<path d="M826.7 316.7 C821.4 324.4 802.5 350.8 795 363.3 C787.5 375.8 783.9 386.9 781.7 391.7" fill="none" stroke="#111" stroke-width="1.46" />
<path d="M853.3 275 C850.3 278.9 838.9 292.8 835 298.3 C831.1 303.9 830.8 306.7 830 308.3" fill="none" stroke="#111" stroke-width="1.46" />
<path d="M855 286.7 C846.4 300.6 815.6 352.2 803.3 370 C791.1 387.8 788.9 386.5 781.7 393.3 C774.4 400.1 765 407.2 760 410.8 C755 414.4 754.2 414.6 751.7 415 C749.2 415.4 746.1 413.6 745 413.3" fill="none" stroke="#111" stroke-width="1.46" />
<path d="M845 283.3 C837.5 295 810.3 335.8 800 353.3 C789.7 370.8 790 378.9 783.3 388.3 C776.7 397.8 763.9 406.4 760 410" fill="none" stroke="#111" stroke-width="1.46" />
<path d="M705 267.5 C701.4 267.9 689.7 266.2 683.3 270 C676.9 273.8 670.3 280.3 666.7 290 C663.1 299.7 662.2 314.4 661.7 328.3 C661.1 342.2 659.7 357.5 663.3 373.3 C666.9 389.2 674.4 408.1 683.3 423.3 C692.2 438.6 702.8 453.9 716.7 465 C730.6 476.1 748.3 486.2 766.7 490 C785 493.8 816.7 487.9 826.7 487.5" fill="none" stroke="#c9c9c9" stroke-width="1.12" />
<path d="M677.5 320 C675.7 320.6 669.3 320.6 666.7 323.3 C664 326.1 662.2 330.3 661.7 336.7 C661.1 343.1 661.7 354.7 663.3 361.7 C665 368.6 665.6 369.4 671.7 378.3 C677.8 387.2 686.9 401.4 700 415 C713.1 428.6 733.3 448.9 750 460 C766.7 471.1 787.2 477.1 800 481.7 C812.8 486.2 822.2 486.5 826.7 487.5" fill="none" stroke="#c9c9c9" stroke-width="1.12" />
<path d="M800 375 C801.7 380.3 807.2 393.1 810 406.7 C812.8 420.3 813.9 443.2 816.7 456.7 C819.4 470.1 825 482.4 826.7 487.5" fill="none" stroke="#c9c9c9" stroke-width="1.12" />
<path d="M833.3 325 C834.2 331.4 838.1 350 838.3 363.3 C838.6 376.7 836.7 388.3 835 405 C833.3 421.7 829.7 449.6 828.3 463.3 C827 477.1 827.1 483.5 826.8 487.5" fill="none" stroke="#c9c9c9" stroke-width="1.12" />
<path d="M705.8 272.5 L708.3 263 L711.3 270Z" fill="#111"/>
<path d="M676.7 317.5 L687 321.7 L678 325.3Z" fill="#111"/>
<path d="M816.7 310.8 L822.5 312.5 L830.8 310.8 L828.3 320.8 L823 317.5Z" fill="#111"/>
<path d="M782.5 358.3 L790.8 361.7 L798.3 362.5 L792.5 370.8Z" fill="#111"/>
<circle cx="856.1" cy="497.6" r="28.6" fill="#fff" stroke="#222" stroke-width="1.7"/>
<circle cx="856.1" cy="451.8" r="15.9" fill="#fff" stroke="#111" stroke-width="2"/>
<path d="M857.5 443.9 L860.7 443.9 L860.7 460.1 L857 460.1 L857 449.9 L852.9 451.1 L852.4 448.5 L855.6 447.1Z" fill="#111"/>
<path d="M854.7 495.3 C855.7 494.4 862.2 489.1 863.5 488.1 C864.9 487.2 865.6 486.7 866.3 486.9 C866.9 487.2 868.5 489.4 869.1 490.2 C869.7 491 871.3 493.2 871.4 493.9 C871.5 494.6 871.5 494.9 870 496.2 C868.5 497.5 860.7 503.7 858.9 505 C857.1 506.3 855.2 506.8 854.7 507" fill="none" stroke="#111" stroke-width="1.68" />
<path d="M863.1 489.3 L868.1 496.9" fill="none" stroke="#111" stroke-width="1.46" />
<path d="M851.5 493 C850.9 493.6 848.9 495.1 848.2 496.7 C847.6 498.2 847.2 500.5 847.6 502.2 C848 504 850.1 506.2 850.6 507" fill="none" stroke="#111" stroke-width="1.68" />
<path d="M853.1 487.4 L853.1 508.7" fill="none" stroke="#111" stroke-width="3.58" />
<path d="M849.4 505.5 L856.8 505.5 L853.1 513.8Z" fill="#111"/>
<path d="M853.3 496.7 L858.1 499 L856.6 501.3 L853.3 501.8Z" fill="#111"/>
<path d="M222.5 856.2 C220 856.5 211.7 854.4 207.5 857.5 C203.3 860.6 198.8 867.1 197.5 875 C196.2 882.9 196.2 893.8 200 905 C203.8 916.2 208.3 931.7 220 942.5 C231.7 953.3 253.3 963.8 270 970 C286.7 976.2 306 978.8 320 980 C334 981.2 348.1 977.9 353.8 977.5" fill="none" stroke="#c9c9c9" stroke-width="1.12" />
<path d="M223.8 820 C221 820.4 212.7 818.8 207.5 822.5 C202.3 826.2 195.4 832.9 192.5 842.5 C189.6 852.1 188.8 865.4 190 880 C191.2 894.6 192.9 914.2 200 930 C207.1 945.8 218.8 963.8 232.5 975 C246.2 986.2 265.8 994.6 282.5 997.5 C299.2 1000.4 320.4 995.4 332.5 992.5 C344.6 989.6 351.2 982.1 355 980" fill="none" stroke="#c9c9c9" stroke-width="1.12" />
<path d="M353.8 872.5 C354.8 877.9 359.2 893.3 360 905 C360.8 916.7 359.2 930.8 358.8 942.5 C358.3 954.2 357.7 969.6 357.5 975" fill="none" stroke="#c9c9c9" stroke-width="1.12" />
<path d="M317.5 925 C321.2 929.2 333.8 941.7 340 950 C346.2 958.3 352.5 970.8 355 975" fill="none" stroke="#c9c9c9" stroke-width="1.12" />
<g transform="translate(380 675) scale(0.8375) translate(-638.3 -204.7)">
<path d="M596.7 264.2 L583.8 292.2" fill="none" stroke="#111" stroke-width="1.46" />
<path d="M634.2 206.7 C634.9 206.3 636.8 204.7 638.3 204.7 C639.9 204.7 642.2 205.6 643.3 206.7 C644.4 207.7 645.1 209.7 645 210.8 C644.9 212 642.9 213.2 642.5 213.7" fill="none" stroke="#111" stroke-width="1.46" />
<path d="M634.2 207 C634.7 207.5 636.1 208.9 637.5 210 C638.9 211.1 641.7 213.1 642.5 213.7" fill="none" stroke="#111" stroke-width="1.12" />
<path d="M634.2 206.7 C632.4 208.1 627.4 210 623.3 215 C619.3 220 614.4 228.6 610 236.7 C605.6 244.7 598.9 258.9 596.7 263.3" fill="none" stroke="#111" stroke-width="1.46" />
<path d="M645 211.7 C644.2 214.2 642.8 219.7 640 226.7 C637.2 233.6 631.4 246.9 628.3 253.3 C625.3 259.7 622.8 263.1 621.7 265" fill="none" stroke="#111" stroke-width="1.46" />
<path d="M637.5 215 C635.7 219.2 631.2 231.4 626.7 240 C622.1 248.6 613.3 260.6 610 266.7 C606.7 272.8 608.5 271.1 606.7 276.7 C604.9 282.2 603.3 290.7 599.2 300 C595 309.3 586.9 321.5 581.8 332.3 C576.8 343.1 572.1 355.2 568.8 364.8 C565.6 374.5 563.4 385.9 562.3 390.2" fill="none" stroke="#111" stroke-width="1.46" />
<path d="M596.7 264.2 C598.3 264.4 603.6 265.4 606.7 265.8 C609.7 266.2 612.5 266.9 615 266.7 C617.5 266.4 619.9 265.7 621.7 264.2 C623.5 262.6 625.1 258.6 625.8 257.5" fill="none" stroke="#111" stroke-width="1.46" />
<path d="M625.8 258.3 C624.3 261.9 619.7 273.1 616.7 280 C613.7 286.9 612.8 289.5 607.8 300 C602.9 310.5 590.5 335.7 587 342.8" fill="none" stroke="#111" stroke-width="1.46" />
<path d="M609.2 295 C608.5 297.5 605.4 305.3 605 310 C604.6 314.7 606 319.4 606.7 323.3 C607.4 327.2 608.8 331.7 609.2 333.3" fill="none" stroke="#333" stroke-width="1.12" />
<path d="M539.1 381.7 C542.1 378.2 552.3 370.2 557.2 360.9 C562.2 351.6 565.9 333.7 568.9 325.9 C571.9 318.1 574.3 316.2 575.4 314.3" fill="none" stroke="#111" stroke-width="1.46" />
<path d="M549.4 385.6 L557.2 360.9" fill="none" stroke="#111" stroke-width="1.46" />
<path d="M564.4 389.4 L620.7 327.9 L568.9 394" fill="none" stroke="#111" stroke-width="1.46" />
<path d="M619.4 322.7 L625.9 315.6" fill="none" stroke="#111" stroke-width="1.46" />
<path d="M620.7 322 L634.4 325.3" fill="none" stroke="#111" stroke-width="1.46" />
<path d="M620.7 329.8 L614.3 360.9 L618.1 363.5" fill="none" stroke="#111" stroke-width="1.46" />
<path d="M614.3 361.5 L581.2 402.3" fill="none" stroke="#111" stroke-width="1.46" />
<path d="M615.5 370.7 C610.2 377.7 594.8 396.3 583.8 412.8 C572.9 429.4 560.4 451 550 470 C539.6 489 527.1 515.8 521.7 526.7 C516.2 537.5 518.2 533.6 517.5 535" fill="none" stroke="#111" stroke-width="1.46" />
<path d="M612.3 388.8 C605.8 399 584.6 430.4 573.3 450 C562.1 469.6 553.3 492.8 545 506.7 C536.7 520.6 526.9 528.9 523.3 533.3" fill="none" stroke="#111" stroke-width="1.46" />
<path d="M613.7 399.8 C608.6 408.8 594.5 435 583.3 453.3 C572.2 471.7 553.9 499.2 546.7 510 C539.4 520.8 541.1 516.9 540 518.3" fill="none" stroke="#111" stroke-width="1.46" />
<path d="M615.5 410.8 C611.8 417.9 602.3 439.3 593.3 453.3 C584.4 467.4 569.7 485 561.7 495 C553.6 505 551.4 506.9 545 513.3 C538.6 519.7 526.9 530 523.3 533.3" fill="none" stroke="#111" stroke-width="1.46" />
<path d="M574.2 400 C569.6 410.8 556.5 445 546.7 465 C536.8 485 521.4 508.2 515 520 C508.6 531.8 509.4 533.2 508.3 535.8" fill="none" stroke="#111" stroke-width="1.46" />
<path d="M568.9 394 C570 394.7 573.4 396.5 575.4 398.5 C577.3 400.6 579.2 403.8 580.6 406.3 C582 408.8 583.3 412.2 583.8 413.4" fill="none" stroke="#111" stroke-width="1.46" />
<path d="M500 375 C500.7 375.1 504.3 375.7 506.7 375.8 C509 376 517.7 375 523.3 376.7 C529 378.3 558.2 390.4 563.3 392.5 C568.5 394.6 573.8 397.4 575 398" fill="none" stroke="#111" stroke-width="1.46" />
<path d="M485 408.3 C485 403.3 486.4 397.2 490 393.3 C493.6 389.4 500.6 386.4 506.7 385 C512.8 383.6 520.6 383.9 526.7 385 C532.8 386.1 539.4 388.6 543.3 391.7 C547.2 394.7 549.4 399.4 550 403.3 C550.6 407.2 548.9 411.4 546.7 415 C544.4 418.6 541.1 422.2 536.7 425 C532.2 427.8 525.6 430.6 520 431.7 C514.4 432.8 508.3 433.1 503.3 431.7 C498.3 430.3 493.1 427.2 490 423.3 C486.9 419.4 485 413.3 485 408.3Z" fill="none" stroke="#111" stroke-width="1.46" />
<path d="M523.3 409.2 C525.3 409 531.5 407.2 535 408.3 C538.5 409.4 542.6 414.6 544.2 415.8" fill="none" stroke="#111" stroke-width="1.46" />
<path d="M508.3 431.7 C509.7 430.7 513.1 427.1 516.7 425.8 C520.3 424.6 526.7 424.2 530 424.2 C533.3 424.2 535.6 425.6 536.7 425.8" fill="none" stroke="#111" stroke-width="1.46" />
<path d="M500 375 C496.7 378.3 479 395.3 475 400 C471 404.7 471 407.1 470 410 C469 412.9 467.1 418.8 467.5 421.7 C467.9 424.6 469.7 429 473.3 431.7 C477 434.3 488.8 439.9 495 441.7 C501.2 443.4 514.4 445.2 520 445 C525.6 444.8 533.1 442 536.7 440 C540.2 438 541.6 435.6 546.7 430 C551.8 424.4 571.2 402.6 575 398.3" fill="none" stroke="#111" stroke-width="1.46" />
<path d="M507.5 376.2 C503.9 379.3 485.1 394.8 480.8 400 C476.6 405.2 476.2 411.4 475.8 415 C475.5 418.6 475.8 424 478.3 426.7 C480.9 429.3 489.4 433.4 495 435 C500.6 436.6 514.4 438.6 520 438.3 C525.6 438.1 532.7 435.6 536.7 433.3 C540.7 431.1 545.6 426.7 550 421.7 C554.4 416.7 567.3 399.3 570 395.8" fill="none" stroke="#111" stroke-width="1.46" />
<path d="M467.5 421.7 C467.1 423.9 464.7 434.1 464.2 438.3 C463.6 442.6 462.8 450.4 463.3 453.3 C463.9 456.2 464.6 457.1 468.3 460 C472.1 462.9 485.7 471.9 491.7 475 C497.7 478.1 508.7 482.1 513.3 483.3 C518 484.6 523.6 484.8 526.7 484.2 C529.8 483.5 534 480.7 536.7 478.3 C539.3 476 544.4 469.3 546.7 466.7 C548.9 464 552.4 459.4 553.3 458.3" fill="none" stroke="#111" stroke-width="1.46" />
<path d="M523.3 455.8 L521.7 475" fill="none" stroke="#111" stroke-width="1.46" />
<path d="M530.8 455 L538.3 469.2" fill="none" stroke="#111" stroke-width="1.46" />
<path d="M465 438.3 C461.9 443.6 441.7 476.9 438.3 483.3 C434.9 489.8 435.4 491.6 435.8 493.3 C436.2 495.1 438.7 496 441.7 498.3 C444.7 500.7 456.4 510 461.7 513.3 C466.9 516.6 481.2 524 486.7 526.7 C492.1 529.3 504.4 534.9 508.3 535.8 C512.2 536.8 517.9 535.7 520 535 C522.1 534.3 525.9 530.6 526.7 530" fill="none" stroke="#111" stroke-width="1.46" />
<path d="M462.5 450.8 L440.8 493.3" fill="none" stroke="#111" stroke-width="1.46" />
</g>
<g transform="translate(210.5 804.5) scale(0.8375) translate(-437.5 -335)">
<path d="M477.5 240 L470 270 L460 293.3 L438.3 330 L437.2 334.2 L453.3 348.3 L486.7 365 L518.3 374.2 L518.3 373.3 L523.3 375 L538.3 368.3 L556.7 350 L570 323.3 L590 293.3 L596.7 280 L591.7 270.8 L585.8 266.7 L581.7 256.7 L575 241.7 L565 233.3Z" fill="#fff" stroke="none"/>
<path d="M477.5 240 C476.5 244 472.3 262.9 470 270 C467.7 277.1 464.2 285.3 460 293.3 C455.8 301.3 441.4 324.6 438.3 330 C435.3 335.4 437.1 333.3 437.2 334.2 C437.3 335.1 437 334.8 439.2 336.7 C441.3 338.6 447 344.6 453.3 348.3 C459.7 352.1 478 361.6 486.7 365 C495.3 368.4 513.4 372.7 518.3 374.2 C523.2 375.6 522.7 375.6 523.3 375.8" fill="none" stroke="#111" stroke-width="1.46" />
<path d="M460 293.3 C459.7 295.6 457.5 301.7 458.3 306.7 C459.2 311.7 460.8 318.1 465 323.3 C469.2 328.6 476.1 335 483.3 338.3 C490.6 341.7 500.8 343.1 508.3 343.3 C515.8 343.6 522.5 342.2 528.3 340 C534.2 337.8 540.8 331.7 543.3 330" fill="none" stroke="#111" stroke-width="1.46" />
<path d="M529.2 277.5 L532.5 324.2" fill="none" stroke="#444" stroke-width="1.23" />
<path d="M565 233.3 C566.7 234.7 572.2 237.8 575 241.7 C577.8 245.6 579.9 252.5 581.7 256.7 C583.5 260.8 583.9 264.3 585.8 266.7 C587.8 269 592.1 270.1 593.3 270.8" fill="none" stroke="#111" stroke-width="1.46" />
<path d="M568.3 240.8 L543.3 263.3" fill="none" stroke="#111" stroke-width="1.46" />
<path d="M588.3 270 L545 326.7" fill="none" stroke="#111" stroke-width="1.46" />
<path d="M590.5 272 L547.5 328.7" fill="none" stroke="#111" stroke-width="1.46" />
<path d="M591.7 270.8 C592.5 272.4 596.9 276.2 596.7 280 C596.4 283.8 594.4 286.1 590 293.3 C585.6 300.6 575.6 313.9 570 323.3 C564.4 332.8 561.9 342.5 556.7 350 C551.4 357.5 543.9 364.2 538.3 368.3 C532.8 372.5 526.7 374.2 523.3 375 C520 375.8 519.2 373.6 518.3 373.3" fill="none" stroke="#111" stroke-width="1.46" />
<path d="M545 326.7 C542.8 329.7 535.6 338.9 531.7 345 C527.8 351.1 523.9 358.6 521.7 363.3 C519.4 368.1 518.9 371.7 518.3 373.3" fill="none" stroke="#111" stroke-width="1.46" />
<circle cx="584.2" cy="291.3" r="1.5" fill="#111"/><circle cx="550" cy="338.3" r="1.5" fill="#111"/>
</g>
<path d="M242.5 726.7 C243.2 728.9 244.3 736.4 246.7 740 C249 743.6 253.1 746.8 256.7 748.3 C260.3 749.9 264.7 749.7 268.3 749.2 C271.9 748.6 275.8 746.5 278.3 745 C280.8 743.5 282.5 740.8 283.3 740" fill="none" stroke="#111" stroke-width="1.46" />
<use href="#arm" transform="translate(215 702.5) scale(0.8375) translate(-443.3 -211.7)"/>
<path d="M226.7 852.5 L235 862.5 L221.7 860.8Z" fill="#111"/>
<path d="M335.8 858.3 L345 860 L353.3 860.8 L347.5 870Z" fill="#111"/>
<path d="M298.3 910.8 L305.8 913.7 L313.3 915 L307.5 923.3Z" fill="#111"/>
<path d="M240.8 649.2 L255.8 670 L247.5 668.3 L247.5 708.3 L233.3 708.3 L233.3 663.3 L225.8 662.5Z" fill="#b9b9b9" stroke="#333" stroke-width="1"/>
<rect x="233.8" y="682.5" width="13.2" height="2.8" fill="#eee"/>
<rect x="233.8" y="696.7" width="13.2" height="2.8" fill="#eee"/>
<path d="M233.3 682.5 L247.5 682.9" fill="none" stroke="#444" stroke-width="1.12" />
<path d="M233.3 685.3 L247.5 685.7" fill="none" stroke="#444" stroke-width="1.12" />
<path d="M233.3 696.7 L247.5 697.1" fill="none" stroke="#444" stroke-width="1.12" />
<path d="M233.3 699.5 L247.5 699.9" fill="none" stroke="#444" stroke-width="1.12" />
<path d="M234 706.5 L247 706.5" fill="none" stroke="#111" stroke-width="2.46" />
<circle cx="215" cy="637.3" r="15.8" fill="#fff" stroke="#111" stroke-width="2"/>
<path d="M215.9 629.5 L219.1 629.5 L219.1 645.7 L215.4 645.7 L215.4 635.5 L211.2 636.7 L210.8 634.1 L214 632.7Z" fill="#111"/>
<circle cx="379.2" cy="995.8" r="29" fill="#fff" stroke="#333" stroke-width="1.5"/>
<circle cx="386.7" cy="947.5" r="15" fill="#fff" stroke="#111" stroke-width="1.6"/>
<text x="387" y="955.3" font-size="22" font-weight="bold" text-anchor="middle" fill="#111">2</text>
<path d="M386.7 965 L386.7 985 L382.8 985 L382.8 983.7 L371.7 983.7 L371.7 989.2 L368.7 999.2 M386.7 975.8 L366.2 975.8 L366.2 1000" fill="none" stroke="#111" stroke-width="1.9" stroke-linejoin="miter"/>
<rect x="358" y="1005.5" width="5.4" height="5.6" rx="2" fill="#111"/>
<path d="M366.7 1001.7 L366.7 1011.7" fill="none" stroke="#333" stroke-width="1.12" />
<text x="372.3" y="1011.6" font-size="16.5" fill="#1a1a1a" stroke="#1a1a1a" stroke-width="0.35" textLength="26" lengthAdjust="spacingAndGlyphs">3mm</text>
<path d="M462.5 787.5 C459.2 787.1 448.3 783.8 442.5 785 C436.7 786.2 430.6 789.6 427.5 795 C424.4 800.4 422.9 807.5 423.8 817.5 C424.6 827.5 426 840.4 432.5 855 C439 869.6 449.2 886.2 462.5 905 C475.8 923.8 493.8 950 512.5 967.5 C531.2 985 557.5 1000 575 1010 C592.5 1020 610.4 1024.6 617.5 1027.5" fill="none" stroke="#c9c9c9" stroke-width="1.12" />
<path d="M440 825 C437.9 825 430.2 822.9 427.5 825 C424.8 827.1 422.9 831.2 423.8 837.5 C424.6 843.8 424 849.2 432.5 862.5 C441 875.8 457.5 897.9 475 917.5 C492.5 937.1 513.8 961.7 537.5 980 C561.2 998.3 604.2 1019.6 617.5 1027.5" fill="none" stroke="#c9c9c9" stroke-width="1.12" />
<path d="M597.5 820 C599.8 823.8 608 833.3 611.2 842.5 C614.5 851.7 616.5 860.4 617 875 C617.5 889.6 615.7 910.4 614.5 930 C613.3 949.6 609.5 976.2 610 992.5 C610.5 1008.8 616.2 1021.7 617.5 1027.5" fill="none" stroke="#c9c9c9" stroke-width="1.12" />
<path d="M555 880 C558.3 886.2 568.8 902.9 575 917.5 C581.2 932.1 587.1 952.1 592.5 967.5 C597.9 982.9 603.3 1000 607.5 1010 C611.7 1020 615.8 1024.6 617.5 1027.5" fill="none" stroke="#c9c9c9" stroke-width="1.12" />
<g transform="translate(452.5 733.75) scale(0.92) translate(-680 -225)">
<path d="M714.2 255 C713.4 257 710.2 264 708.3 270 C706.4 276 702.2 294.2 700 300 C697.8 305.8 695.2 307.3 691.7 313.3 C688.1 319.3 675.9 340.1 673.3 345 C670.8 349.9 672.3 348.9 672.5 350 C672.7 351.1 671.3 351.1 675 353.3 C678.7 355.6 692.2 362.7 700 366.7 C707.8 370.7 725.8 380.1 733.3 383.3 C740.9 386.6 752.2 390.1 756.7 390.8 C761.1 391.6 764 390.6 766.7 389.2 C769.3 387.7 775.3 381.2 776.7 380" fill="none" stroke="#111" stroke-width="1.46" />
<path d="M672.8 351.7 L670.8 370.5" fill="none" stroke="#111" stroke-width="1.46" />
<path d="M680.3 357 L676.2 372" fill="none" stroke="#111" stroke-width="1.46" />
<path d="M670.8 370 C673.6 372.4 685.6 383.9 691.7 388.3 C697.8 392.8 709.6 400 716.7 403.3 C723.8 406.7 740.3 411.7 745 413.3 C749.7 415 749.7 415.9 751.7 415.8 C753.7 415.7 755.8 415.9 760 412.5 C764.2 409.1 778 395.3 783.3 390 C788.7 384.7 797.8 374.8 800 372.5" fill="none" stroke="#111" stroke-width="1.46" />
<path d="M756.7 390.8 L745 413.3" fill="none" stroke="#111" stroke-width="1.46" />
<path d="M769.2 388.3 L759.2 410" fill="none" stroke="#111" stroke-width="1.46" />
<path d="M700 300 C699.2 302.2 695.6 308.9 695 313.3 C694.4 317.8 694.7 321.9 696.7 326.7 C698.6 331.4 701.9 337.2 706.7 341.7 C711.4 346.1 717.8 350.6 725 353.3 C732.2 356.1 743.1 358.1 750 358.3 C756.9 358.6 761.7 357.2 766.7 355 C771.7 352.8 777.8 346.7 780 345" fill="none" stroke="#111" stroke-width="1.46" />
<path d="M766.7 290.8 L770 339.2" fill="none" stroke="#333" stroke-width="1.23" />
<path d="M715 255.8 C715.3 257.6 715 262.9 716.7 266.7 C718.3 270.4 721.4 275.6 725 278.3 C728.6 281.1 733.6 283.1 738.3 283.3 C743.1 283.6 749.4 281.7 753.3 280 C757.2 278.3 760.3 274.4 761.7 273.3" fill="none" stroke="#111" stroke-width="1.46" />
<path d="M801.7 245.8 C803.1 246.7 807.5 248.5 810 250.8 C812.5 253.2 815 256.2 816.7 260 C818.3 263.8 818.9 269.7 820 273.3 C821.1 276.9 821.9 279.9 823.3 281.7 C824.7 283.5 826.7 283.1 828.3 284.2 C830 285.3 832.2 286 833.3 288.3 C834.4 290.7 835.6 295 835 298.3 C834.4 301.7 831.4 305.6 830 308.3 C828.6 311.1 827.2 313.9 826.7 315" fill="none" stroke="#111" stroke-width="1.46" />
<path d="M806.7 255 L781.7 277.5" fill="none" stroke="#111" stroke-width="1.46" />
<path d="M853.3 160.8 C852.2 162.2 850.8 164.9 846.7 169.2 C842.5 173.5 833.1 182.2 828.3 186.7 C823.6 191.1 821.2 191.9 818.3 195.8 C815.4 199.7 812.1 207.6 810.8 210" fill="none" stroke="#111" stroke-width="1.46" />
<path d="M846.7 169.2 C845 173.2 840.3 185.1 836.7 193.3 C833.1 201.5 826.9 214.2 825 218.3" fill="none" stroke="#111" stroke-width="1.46" />
<path d="M846.7 169.2 C846.4 173.2 844.9 186.9 845 193.3 C845.1 199.7 847.1 205.1 847.5 207.5" fill="none" stroke="#333" stroke-width="1.12" />
<path d="M828.3 187.5 C826.9 192.1 823.6 205.1 820 215 C816.4 224.9 808.9 241.4 806.7 246.7" fill="none" stroke="#111" stroke-width="1.46" />
<path d="M815 250.8 L860 203.3 L818.3 255" fill="none" stroke="#111" stroke-width="1.46" />
<path d="M859.2 195.8 L864.2 190" fill="none" stroke="#111" stroke-width="1.46" />
<path d="M861.7 196.7 L873.3 200" fill="none" stroke="#111" stroke-width="1.46" />
<path d="M860 205 L853.3 236.7 L857.5 238.3" fill="none" stroke="#111" stroke-width="1.46" />
<path d="M853.3 237.5 L823.3 275" fill="none" stroke="#111" stroke-width="1.46" />
<path d="M854.2 246.7 L828.3 281.7" fill="none" stroke="#111" stroke-width="1.46" />
<path d="M851.7 265 L833.3 288.3" fill="none" stroke="#111" stroke-width="1.46" />
<path d="M824.2 284.2 C816.8 294.3 789.9 331.5 780 345 C770.1 358.5 768.8 358.9 765 365 C761.2 371.1 759.3 377.2 757.5 381.7 C755.7 386.1 756.2 386.4 754.2 391.7 C752.1 396.9 746.5 409.7 745 413.3" fill="none" stroke="#111" stroke-width="1.46" />
<path d="M826.7 286.3 L782.5 345" fill="none" stroke="#111" stroke-width="1.46" />
<path d="M828.3 308.3 C826.9 309.9 826.9 308.6 820 317.5 C813.1 326.4 792.2 354.3 786.7 361.7" fill="none" stroke="#111" stroke-width="1.46" />
<path d="M826.7 316.7 C821.4 324.4 802.5 350.8 795 363.3 C787.5 375.8 783.9 386.9 781.7 391.7" fill="none" stroke="#111" stroke-width="1.46" />
<path d="M853.3 275 C850.3 278.9 838.9 292.8 835 298.3 C831.1 303.9 830.8 306.7 830 308.3" fill="none" stroke="#111" stroke-width="1.46" />
<path d="M855 286.7 C846.4 300.6 815.6 352.2 803.3 370 C791.1 387.8 788.9 386.5 781.7 393.3 C774.4 400.1 765 407.2 760 410.8 C755 414.4 754.2 414.6 751.7 415 C749.2 415.4 746.1 413.6 745 413.3" fill="none" stroke="#111" stroke-width="1.46" />
<path d="M845 283.3 C837.5 295 810.3 335.8 800 353.3 C789.7 370.8 790 378.9 783.3 388.3 C776.7 397.8 763.9 406.4 760 410" fill="none" stroke="#111" stroke-width="1.46" />
</g>
<use href="#arm" transform="translate(452.5 733.75) scale(0.928) translate(-443.3 -211.7)"/>
<path d="M464.2 785 L474.2 793.3 L461.7 794.2Z" fill="#111"/>
<path d="M443.3 823.3 L454.2 830.8 L440.8 831.7Z" fill="#111"/>
<path d="M583.3 810 L589.2 812 L596.7 813.3 L591.7 820.8 L586.7 817.5Z" fill="#111"/>
<path d="M540 868.3 L548.3 871.7 L555 872.5 L550 880.8Z" fill="#111"/>
<path d="M469.9 646.4 L484.8 646.4 L484.8 697.6 L493.2 700.2 L477 712.5 L461.5 692.4 L469.9 693.7Z" fill="#b9b9b9" stroke="#333" stroke-width="1"/>
<rect x="470.4" y="650.9" width="13.9" height="3.3" fill="#fff"/>
<rect x="470.4" y="660.6" width="13.9" height="3.9" fill="#fff"/>
<rect x="470.4" y="674.9" width="13.9" height="4.5" fill="#eee"/>
<path d="M470 676 L484.8 675" fill="none" stroke="#333" stroke-width="1.23" />
<path d="M470 679 L484.8 678" fill="none" stroke="#333" stroke-width="1.23" />
<path d="M473 662 L478 662.6" fill="none" stroke="#111" stroke-width="2.24" />
<path d="M470 650.9 L484.8 650.9" fill="none" stroke="#444" stroke-width="1.12" />
<path d="M470 654.2 L484.8 654.2" fill="none" stroke="#444" stroke-width="1.12" />
<circle cx="464.7" cy="623.1" r="16" fill="#fff" stroke="#111" stroke-width="2"/>
<path d="M465.6 615.3 L468.8 615.3 L468.8 631.5 L465.1 631.5 L465.1 621.3 L460.9 622.5 L460.5 619.9 L463.7 618.5Z" fill="#111"/>
<circle cx="628.8" cy="834.7" r="16.2" fill="#fff" stroke="#111" stroke-width="1.9"/>
<text x="629.3" y="843.2" font-size="24" font-weight="bold" text-anchor="middle" fill="#111">2</text>
<rect x="625.7" y="863" width="6.3" height="19" rx="2.5" fill="#111"/>
<path d="M625.5 884 L628.8 881 L632.2 884 L628.8 887Z" fill="#111"/>
<path d="M628.8 886 L628.8 900" fill="none" stroke="#111" stroke-width="1.34" />
<circle cx="628.9" cy="905.3" r="6" fill="#fff" stroke="#111" stroke-width="1.7"/>
<path d="M623 905.3 L635 905.3" fill="none" stroke="#111" stroke-width="1.57" />
<path d="M628.9 899.3 L628.9 911.3" fill="none" stroke="#111" stroke-width="1.57" />
<path d="M628.9 912.5 L628.9 918" fill="none" stroke="#111" stroke-width="1.57" />
<circle cx="629" cy="934.6" r="16.4" fill="#fff" stroke="#111" stroke-width="1.7"/>
<text x="620.2" y="942.4" font-size="21" font-weight="bold" fill="#111">4</text>
<path d="M633.5 931.2 L638.7 936.4 M638.7 931.2 L633.5 936.4" stroke="#111" stroke-width="1.9" fill="none"/>
<text x="627.6" y="968.6" font-size="8.6" text-anchor="middle" fill="#8d8d8d" textLength="45" lengthAdjust="spacingAndGlyphs">St 4,8x16</text>
<path d="M628.4 956.5 L628.4 958" fill="none" stroke="#111" stroke-width="1.57" />
<path d="M628.4 973.5 L628.4 979" fill="none" stroke="#111" stroke-width="1.79" />
<ellipse cx="628.3" cy="989.3" rx="11" ry="5.7" fill="#fff" stroke="#111" stroke-width="1.5"/>
<path d="M625.5 986.6 L627 986.6" fill="none" stroke="#111" stroke-width="2.24" />
<path d="M629.5 986.6 L631.5 986.6" fill="none" stroke="#111" stroke-width="2.24" />
<path d="M624.5 995 L624.5 1017 L628.3 1022.5 L632.3 1017 L632.3 995" fill="#ccc" stroke="#555" stroke-width="1"/>
<path d="M624.5 999.5 L632.3 998" fill="none" stroke="#666" stroke-width="0.9" />
<path d="M624.5 1003.1 L632.3 1001.6" fill="none" stroke="#666" stroke-width="0.9" />
<path d="M624.5 1006.7 L632.3 1005.2" fill="none" stroke="#666" stroke-width="0.9" />
<path d="M624.5 1010.3 L632.3 1008.8" fill="none" stroke="#666" stroke-width="0.9" />
<path d="M624.5 1013.9 L632.3 1012.4" fill="none" stroke="#666" stroke-width="0.9" />
<path d="M624.5 1017.5 L632.3 1016" fill="none" stroke="#666" stroke-width="0.9" />
<path d="M617.2 1028.2 C618 1028.5 620.5 1029.6 622 1029.8 C623.5 1030 624.9 1030 626 1029.4 C627.1 1028.9 628.1 1027 628.5 1026.5" fill="none" stroke="#111" stroke-width="2.46" />
</g>
</svg>
</body></html>
